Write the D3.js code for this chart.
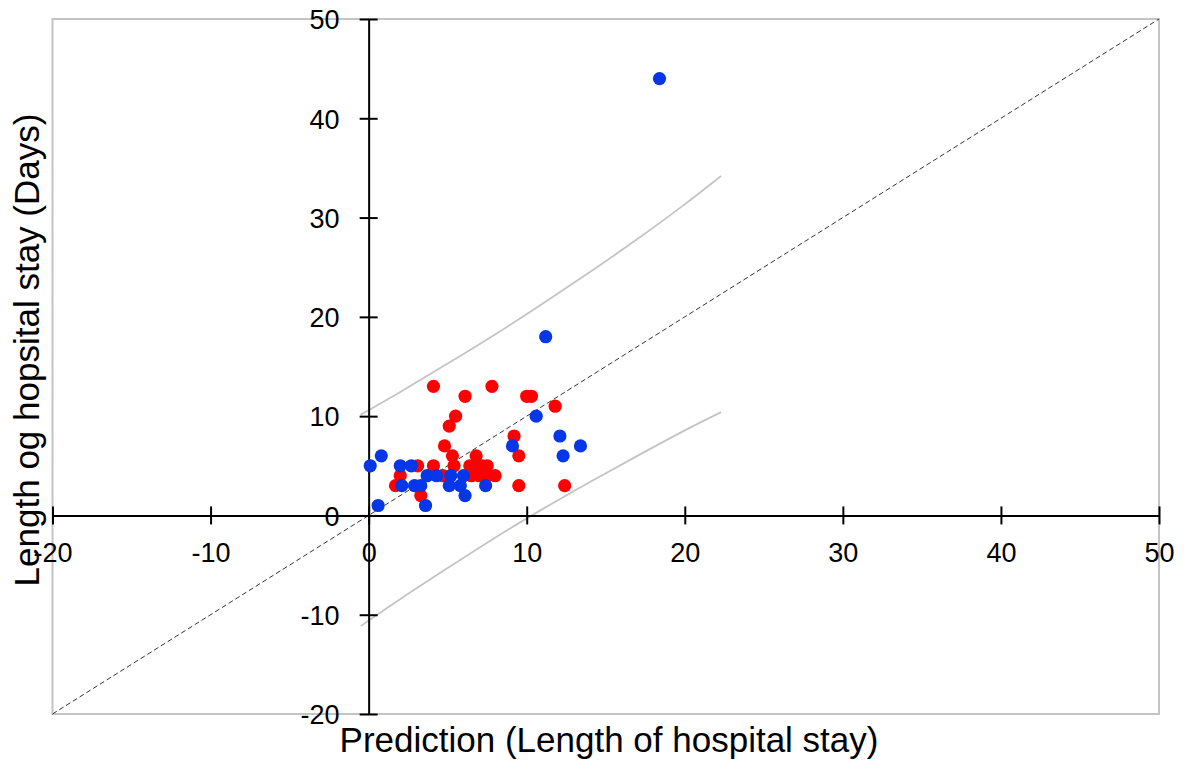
<!DOCTYPE html>
<html>
<head>
<meta charset="utf-8">
<script src="https://cdn.jsdelivr.net/npm/d3@7/dist/d3.min.js"></script>
<style>
    body { margin: 0; background: #fff; }
    svg { display: block; font-family: "Liberation Sans", Arial, Helvetica, sans-serif; }
</style>
</head>
<body>
<svg id="chart" width="1187" height="762"></svg>
<script>
// Data
const redX = [4.1, 7.8, 6.1, 10.0, 10.3, 11.8, 5.5, 5.1, 9.2, 4.8, 9.5, 5.3, 6.8, 3.1, 4.1, 5.4, 6.4, 6.8, 7.2, 7.5, 2.0, 4.7, 6.5, 7.0, 7.5, 8.0, 1.7, 9.5, 12.4, 3.3];
const redY = [13, 13, 12, 12, 12, 11, 10, 9, 8, 7, 6, 6, 6, 5, 5, 5, 5, 5, 5, 5, 4, 4, 4, 4, 4, 4, 3, 3, 3, 2];
const blueX = [18.4, 11.2, 10.6, 12.1, 13.4, 9.1, 12.3, 0.8, 0.1, 2.0, 2.7, 3.7, 4.3, 5.2, 6.0, 2.1, 2.9, 3.3, 5.1, 5.8, 7.4, 6.1, 0.6, 3.6];
const blueY = [44, 18, 10, 8, 7, 7, 6, 6, 5, 5, 5, 4, 4, 4, 4, 3, 3, 3, 3, 3, 3, 2, 1, 1];

// Prediction band (grey lines)
const bandX = [-0.5, 2, 5, 8, 11, 14, 17, 20, 22.3];
const bandUpper = [10.15, 12.4, 15.3, 18.2, 21.3, 24.5, 27.8, 31.3, 34.2];
const bandLower = [-11.15, -8.4, -5.3, -2.2, 0.65, 3.4, 6.0, 8.6, 10.4];

// Identity line and ticks
const diagX = [-20, 50];
const tickValues = [-20, -10, 0, 10, 20, 30, 40, 50];

const svg = d3.select('#chart');
const plotLeft = 52.5, plotRight = 1159, plotTop = 19, plotBottom = 714;

const x = d3.scaleLinear().domain([-20, 50]).range([plotLeft, plotRight]);
const y = d3.scaleLinear().domain([-20, 50]).range([plotBottom, plotTop]);

// Frame
svg.append('rect')
    .attr('x', plotLeft)
    .attr('y', plotTop)
    .attr('width', plotRight - plotLeft)
    .attr('height', plotBottom - plotTop)
    .attr('fill', 'none')
    .attr('stroke', '#c4c4c4')
    .attr('stroke-width', 2);

// Dashed identity line
svg.append('line')
    .attr('x1', x(diagX[0])).attr('y1', y(diagX[0]))
    .attr('x2', x(diagX[1])).attr('y2', y(diagX[1]))
    .attr('stroke', '#333')
    .attr('stroke-width', 1)
    .attr('stroke-dasharray', '5,3');

// Band lines
const bandLine = vals => d3.line()
    .x((d, i) => x(bandX[i]))
    .y((d, i) => y(vals[i]))
    .curve(d3.curveBasis)(bandX);

[bandUpper, bandLower].forEach(vals => {
    svg.append('path')
        .attr('d', bandLine(vals))
        .attr('fill', 'none')
        .attr('stroke', '#c4c4c4')
        .attr('stroke-width', 1.8);
});

// Axes through the origin, ticks crossing the line
const xAxis = svg.append('g')
    .attr('transform', `translate(0,${y(0)})`)
    .call(d3.axisBottom(x).tickValues(tickValues).tickSizeOuter(0).tickFormat(d => String(d)));
const yAxis = svg.append('g')
    .attr('transform', `translate(${x(0)},0)`)
    .call(d3.axisLeft(y).tickValues(tickValues).tickSizeOuter(0).tickFormat(d => String(d)));

xAxis.selectAll('.tick line').attr('y1', -9).attr('y2', 9);
yAxis.selectAll('.tick line').attr('x1', -9).attr('x2', 9);

[xAxis, yAxis].forEach(g => {
    g.select('.domain').attr('stroke', '#000').attr('stroke-width', 2);
    g.selectAll('.tick line').attr('stroke', '#000').attr('stroke-width', 2);
    g.selectAll('.tick text')
        .attr('fill', '#000')
        .style('font-size', '27px')
        .style('font-family', '"Liberation Sans", Arial, sans-serif');
});
xAxis.selectAll('.tick text').attr('y', 27).attr('dy', '0.71em');
yAxis.selectAll('.tick text').attr('x', -29).attr('dy', '0.36em');

// Points
const red = redX.map((v, i) => ({ x: v, y: redY[i] }));
const blue = blueX.map((v, i) => ({ x: v, y: blueY[i] }));

svg.append('g').selectAll('circle')
    .data(red)
    .enter()
    .append('circle')
    .attr('cx', d => x(d.x))
    .attr('cy', d => y(d.y))
    .attr('r', 6.6)
    .attr('fill', '#ff0000');

svg.append('g').selectAll('circle')
    .data(blue)
    .enter()
    .append('circle')
    .attr('cx', d => x(d.x))
    .attr('cy', d => y(d.y))
    .attr('r', 6.6)
    .attr('fill', '#0536e8');

// Axis titles
svg.append('text')
    .attr('x', 609)
    .attr('y', 752)
    .attr('text-anchor', 'middle')
    .style('font-size', '35px')
    .text('Prediction (Length of hospital stay)');

svg.append('text')
    .attr('transform', 'translate(39,350) rotate(-90)')
    .attr('text-anchor', 'middle')
    .style('font-size', '35px')
    .text('Length og hopsital stay (Days)');
</script>
</body>
</html>
